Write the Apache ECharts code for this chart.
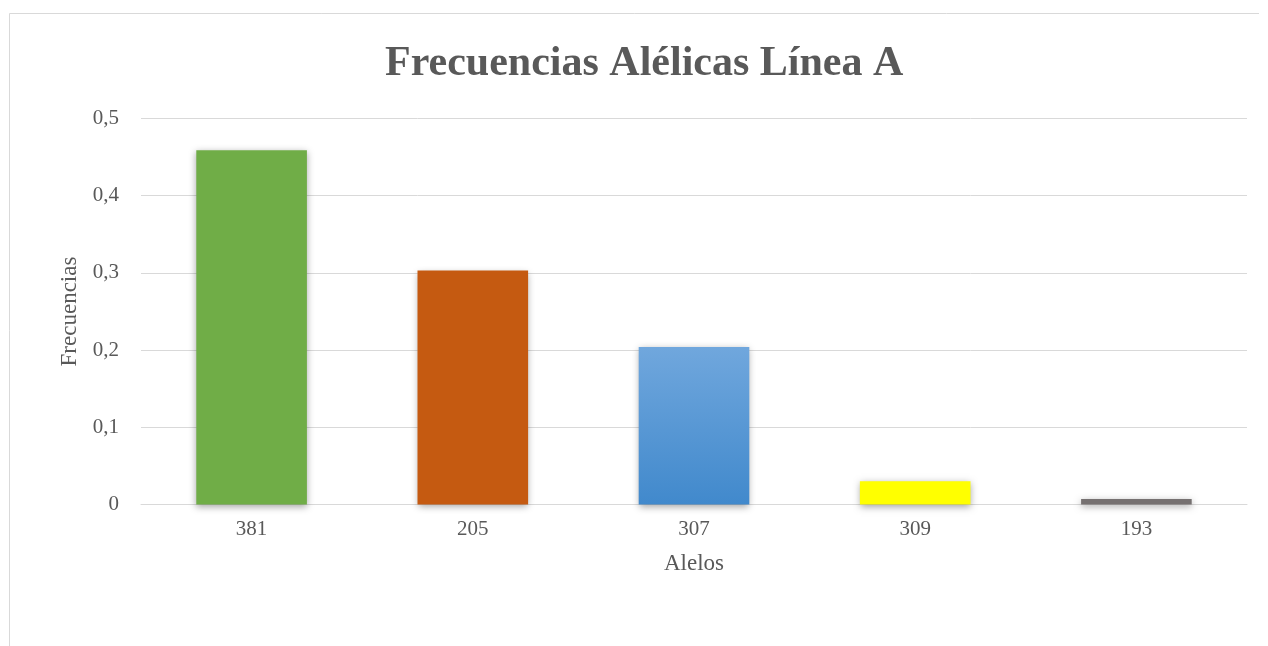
<!DOCTYPE html>
<html>
<head>
<meta charset="utf-8">
<script src="https://cdn.jsdelivr.net/npm/echarts@6/dist/echarts.min.js"></script>
<style>
  html, body { margin: 0; padding: 0; background: #ffffff; }
  #chart { width: 1268px; height: 646px; }
</style>
</head>
<body>
<div id="chart"></div>
<script>
// Allele frequencies, line A
const alleles = ['381', '205', '307', '309', '193'];
const frequencies = [0.459, 0.303, 0.204, 0.030, 0.007];
const yTicks = [0, 0.1, 0.2, 0.3, 0.4, 0.5];

const barColors = [
  '#70ad47',
  '#c55a11',
  { type: 'linear', x: 0, y: 0, x2: 0, y2: 1,
    colorStops: [{ offset: 0, color: '#70a7dd' }, { offset: 1, color: '#4189cc' }] },
  '#ffff00',
  '#767171'
];

const fontFamily = '"Liberation Serif", "Times New Roman", serif';
const textColor = '#595959';

const chart = echarts.init(document.getElementById('chart'), null, { renderer: 'canvas' });

chart.setOption({
  backgroundColor: '#ffffff',
  animation: false,
  // chart frame: top and left edges
  graphic: [{
    type: 'polyline',
    shape: { points: [[9.5, 700], [9.5, 13.5], [1259, 13.5]] },
    style: { fill: 'none', stroke: '#d9d9d9', lineWidth: 1 },
    silent: true
  }],
  title: {
    text: 'Frecuencias Alélicas Línea A',
    left: 380,
    top: 38,
    textStyle: { fontFamily, fontSize: 42, fontWeight: 'bold', color: textColor }
  },
  grid: { left: 141, right: 21, top: 118.5, bottom: 141.5, containLabel: false },
  xAxis: {
    type: 'category',
    data: alleles,
    name: 'Alelos',
    nameLocation: 'middle',
    nameGap: 48,
    nameTextStyle: { fontFamily, fontSize: 23, color: textColor },
    axisLine: { lineStyle: { color: '#d9d9d9', width: 1 } },
    axisTick: { show: false },
    axisLabel: { fontFamily, fontSize: 21, color: textColor, margin: 14 }
  },
  yAxis: {
    type: 'value',
    min: yTicks[0],
    max: yTicks[yTicks.length - 1],
    interval: 0.1,
    name: 'Frecuencias',
    nameLocation: 'middle',
    nameGap: 57,
    nameRotate: 90,
    nameTextStyle: { fontFamily, fontSize: 23, color: textColor },
    axisLine: { show: false },
    axisTick: { show: false },
    splitLine: { lineStyle: { color: '#d9d9d9', width: 1 } },
    axisLabel: {
      fontFamily, fontSize: 21, color: textColor, margin: 22,
      formatter: v => (Math.round(v * 10) / 10).toString().replace('.', ',')
    }
  },
  series: [{
    type: 'bar',
    barWidth: '50%',
    data: frequencies.map((v, i) => ({
      value: v,
      itemStyle: {
        color: barColors[i],
        shadowColor: 'rgba(0,0,0,0.35)',
        shadowBlur: 7,
        shadowOffsetY: 2
      }
    }))
  }]
});
</script>
</body>
</html>
